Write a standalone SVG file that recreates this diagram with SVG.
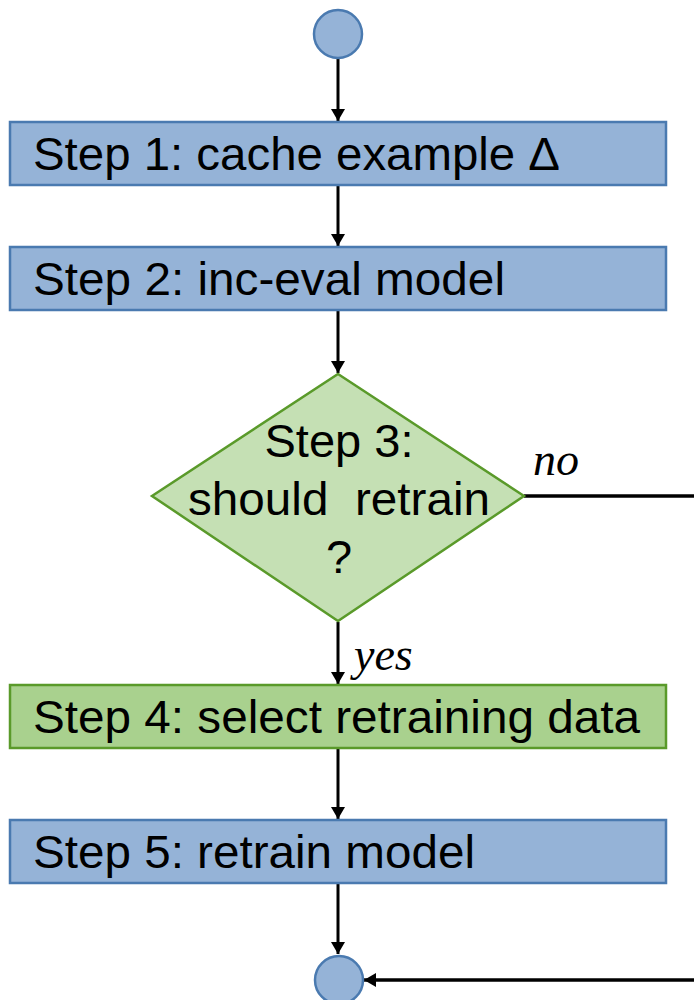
<svg xmlns="http://www.w3.org/2000/svg" width="694" height="1000" viewBox="0 0 694 1000">
<style>
.blue{fill:#95b3d7;stroke:#4a7ab0;stroke-width:2.5}
.green{fill:#a9d18e;stroke:#5a9a2a;stroke-width:2.5}
.dia{fill:#c5e0b4;stroke:#5a9a2a;stroke-width:2.5}
.t{font-family:"Liberation Sans",Arial,sans-serif;font-size:47px;fill:#000}
.lbl{font-family:"Liberation Serif","Times New Roman",serif;font-style:italic;font-size:46px;fill:#000}
.c{stroke:#000;stroke-width:3;fill:none}
</style>
<defs>
<marker id="ah" viewBox="0 0 12 14" refX="12" refY="7" markerWidth="12" markerHeight="14" markerUnits="userSpaceOnUse" orient="auto">
<path d="M0,0 L12,7 L0,14 Z" fill="#000"/>
</marker>
</defs>
<g id="connectors">
<line class="c" x1="338" y1="59" x2="338" y2="121" marker-end="url(#ah)"/>
<line class="c" x1="338" y1="186" x2="338" y2="246" marker-end="url(#ah)"/>
<line class="c" x1="338" y1="311" x2="338" y2="373" marker-end="url(#ah)"/>
<line class="c" x1="338" y1="622" x2="338" y2="684" marker-end="url(#ah)"/>
<line class="c" x1="338" y1="749" x2="338" y2="819" marker-end="url(#ah)"/>
<line class="c" x1="338" y1="884" x2="338" y2="954" marker-end="url(#ah)"/>
<line class="c" x1="524" y1="496" x2="694" y2="496" style="stroke-width:3.5"/>
<line class="c" x1="694" y1="980" x2="364" y2="980" style="stroke-width:3.5" marker-end="url(#ah)"/>
<text class="lbl" x="533" y="475">no</text>
<text class="lbl" x="354" y="670">yes</text>
</g>
<g id="start"><circle class="blue" cx="338" cy="34" r="24"/></g>
<g id="step1"><rect class="blue" x="10" y="122" width="656" height="63"/><text class="t" x="33" y="170" textLength="527" lengthAdjust="spacingAndGlyphs">Step 1: cache example Δ</text></g>
<g id="step2"><rect class="blue" x="10" y="247" width="656" height="63"/><text class="t" x="33" y="295" textLength="472" lengthAdjust="spacingAndGlyphs">Step 2: inc-eval model</text></g>
<g id="step3"><polygon class="dia" points="338,374 524,496 338,621 152,496"/>
<text class="t" text-anchor="middle" x="339" y="457">Step 3:</text>
<text class="t" text-anchor="middle" x="339" y="515" xml:space="preserve" textLength="302" lengthAdjust="spacingAndGlyphs">should  retrain</text>
<text class="t" text-anchor="middle" x="339" y="573">?</text></g>
<g id="step4"><rect class="green" x="10" y="685" width="656" height="63"/><text class="t" x="33" y="733" textLength="607" lengthAdjust="spacingAndGlyphs">Step 4: select retraining data</text></g>
<g id="step5"><rect class="blue" x="10" y="820" width="656" height="63"/><text class="t" x="33" y="868" textLength="442" lengthAdjust="spacingAndGlyphs">Step 5: retrain model</text></g>
<g id="end"><circle class="blue" cx="339" cy="980" r="24"/></g>
</svg>
